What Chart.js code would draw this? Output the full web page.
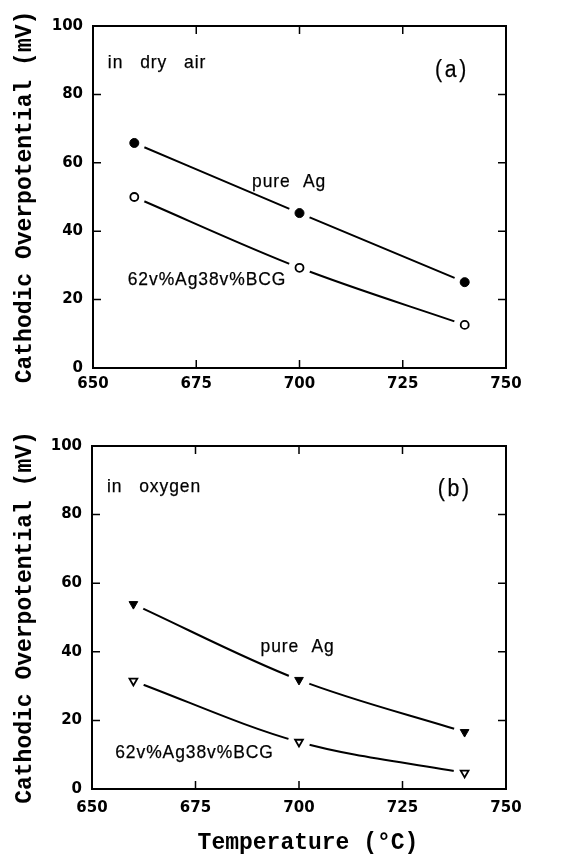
<!DOCTYPE html>
<html>
<head>
<meta charset="utf-8">
<script src="https://cdn.jsdelivr.net/npm/chart.js@4/dist/chart.umd.min.js"></script>
<style>
  body { margin: 0; background: #fff; }
  #wrap { position: relative; width: 580px; height: 860px; }
  #chartA { position: absolute; left: 0; top: 0; }
  #chartB { position: absolute; left: 0; top: 420px; }
</style>
</head>
<body>
<div id="wrap">
  <canvas id="chartA" width="580" height="420"></canvas>
  <canvas id="chartB" width="580" height="440"></canvas>
</div>
<script>
// cathodic overpotential vs temperature, two atmospheres
var temps = [660, 700, 740]
var airAg = [65.8, 45.3, 25.1]
var airBCG = [50.0, 29.3, 12.6]
var oxyAg = [53.9, 31.8, 16.6]
var oxyBCG = [31.5, 13.7, 4.7]

var yTitle = 'Cathodic Overpotential (mV)'
var xTitle = 'Temperature (°C)'

function pts(vals) {
  var out = []
  for (var i = 0; i < temps.length; i++) {
    out.push({x: temps[i], y: vals[i]})
  }
  return out
}

// slightly narrowed sans text, like the typeset labels in the figure
function drawNote(ctx, n, px, py) {
  ctx.save()
  ctx.translate(px, py)
  ctx.scale(0.92, 1)
  ctx.font = n.size + 'px "Liberation Sans"'
  ctx.letterSpacing = n.ls + 'px'
  ctx.wordSpacing = (n.ws || 0) + 'px'
  ctx.fillText(n.text, 0, 0)
  ctx.lineWidth = 0.25
  ctx.strokeText(n.text, 0, 0)
  ctx.restore()
}

// box, inward ticks on all four sides, notes and the x title
var frame = {
  id: 'frame',
  afterDatasetsDraw: function(chart, args, opts) {
    var ctx = chart.ctx
    var a = chart.chartArea
    var x = chart.scales.x
    var y = chart.scales.y
    ctx.save()
    ctx.strokeStyle = '#000'
    ctx.lineWidth = 1.5
    ctx.beginPath()
    x.ticks.forEach(function(t) {
      var px = x.getPixelForValue(t.value)
      ctx.moveTo(px, a.bottom); ctx.lineTo(px, a.bottom - 8)
      ctx.moveTo(px, a.top); ctx.lineTo(px, a.top + 8)
    })
    y.ticks.forEach(function(t) {
      var py = y.getPixelForValue(t.value)
      ctx.moveTo(a.left, py); ctx.lineTo(a.left + 8, py)
      ctx.moveTo(a.right, py); ctx.lineTo(a.right - 8, py)
    })
    ctx.stroke()
    ctx.lineWidth = 2
    ctx.strokeRect(a.left, a.top, a.right - a.left, a.bottom - a.top)

    ctx.fillStyle = '#000'
    ctx.strokeStyle = '#000'
    ctx.textBaseline = 'middle'
    ctx.textAlign = 'left'
    opts.notes.forEach(function(n) {
      drawNote(ctx, n, x.getPixelForValue(n.x), y.getPixelForValue(n.y))
    })

    if (opts.xTitle) {
      ctx.font = 'bold 23px "Liberation Mono"'
      ctx.textAlign = 'center'
      ctx.fillText(xTitle, (a.left + a.right) / 2 + 9, chart.height - 17)
    }
    ctx.restore()
  }
}

function makePanel(id, agVals, bcgVals, shape, notes, bottom) {
  var rot = shape === 'triangle' ? 180 : 0
  var r = shape === 'triangle' ? 5 : 4.5
  var ctx = document.getElementById(id).getContext('2d')
  return new Chart(ctx, {
    type: 'scatter',
    data: {
      datasets: [
        // markers on top
        {data: pts(agVals), pointStyle: shape, rotation: rot, pointRadius: r,
         pointBackgroundColor: '#000', pointBorderColor: '#000', pointBorderWidth: 1, order: 1},
        {data: pts(bcgVals), pointStyle: shape, rotation: rot, pointRadius: r - 0.5,
         pointBackgroundColor: '#fff', pointBorderColor: '#000', pointBorderWidth: 1.8, order: 1},
        // white gaps round the markers
        {data: pts(agVals), pointRadius: 11, pointBackgroundColor: '#fff', pointBorderWidth: 0, order: 2},
        {data: pts(bcgVals), pointRadius: 11, pointBackgroundColor: '#fff', pointBorderWidth: 0, order: 2},
        // fitted curves
        {data: pts(agVals), showLine: true, pointRadius: 0, borderColor: '#000', borderWidth: 2,
         cubicInterpolationMode: 'monotone', order: 3},
        {data: pts(bcgVals), showLine: true, pointRadius: 0, borderColor: '#000', borderWidth: 2,
         cubicInterpolationMode: 'monotone', order: 3}
      ]
    },
    options: {
      responsive: false,
      animation: false,
      layout: {padding: {top: 26, right: 74, left: 0, bottom: 0}},
      plugins: {
        legend: {display: false},
        tooltip: {enabled: false},
        frame: {notes: notes, xTitle: bottom}
      },
      scales: {
        x: {
          type: 'linear', min: 650, max: 750,
          grid: {display: false, drawTicks: false},
          border: {display: false},
          ticks: {stepSize: 25, color: '#000', padding: bottom ? 10 : 7,
                  font: {family: 'DejaVu Sans', size: 15, weight: 'bold'}},
          afterFit: function(s) { s.height = bottom ? 71 : 52 }
        },
        y: {
          min: 0, max: 100,
          grid: {display: false, drawTicks: false},
          border: {display: false},
          ticks: {stepSize: 20, color: '#000', padding: 10,
                  font: {family: 'DejaVu Sans', size: 15, weight: 'bold'}},
          title: {display: true, text: yTitle, color: '#000', padding: {top: 11, bottom: 0},
                  font: {family: 'Liberation Mono', size: 23, weight: 'bold'}},
          afterFit: function(s) { s.width = bottom ? 92 : 93 }
        }
      }
    },
    plugins: [frame]
  })
}

makePanel('chartA', airAg, airBCG, 'circle', [
  {text: 'in dry air', x: 653.6, y: 89.2, size: 19, ls: 1, ws: 12},
  {text: '(a)', x: 732.8, y: 87.0, size: 23, ls: 3},
  {text: 'pure Ag', x: 688.5, y: 54.4, size: 19, ls: 1, ws: 7},
  {text: '62v%Ag38v%BCG', x: 658.4, y: 25.7, size: 19, ls: 1}
], false)

makePanel('chartB', oxyAg, oxyBCG, 'triangle', [
  {text: 'in oxygen', x: 653.6, y: 88.0, size: 19, ls: 1, ws: 12},
  {text: '(b)', x: 733.5, y: 87.2, size: 23, ls: 3},
  {text: 'pure Ag', x: 690.7, y: 41.4, size: 19, ls: 1, ws: 7},
  {text: '62v%Ag38v%BCG', x: 655.6, y: 10.5, size: 19, ls: 1}
], true)
</script>
</body>
</html>
